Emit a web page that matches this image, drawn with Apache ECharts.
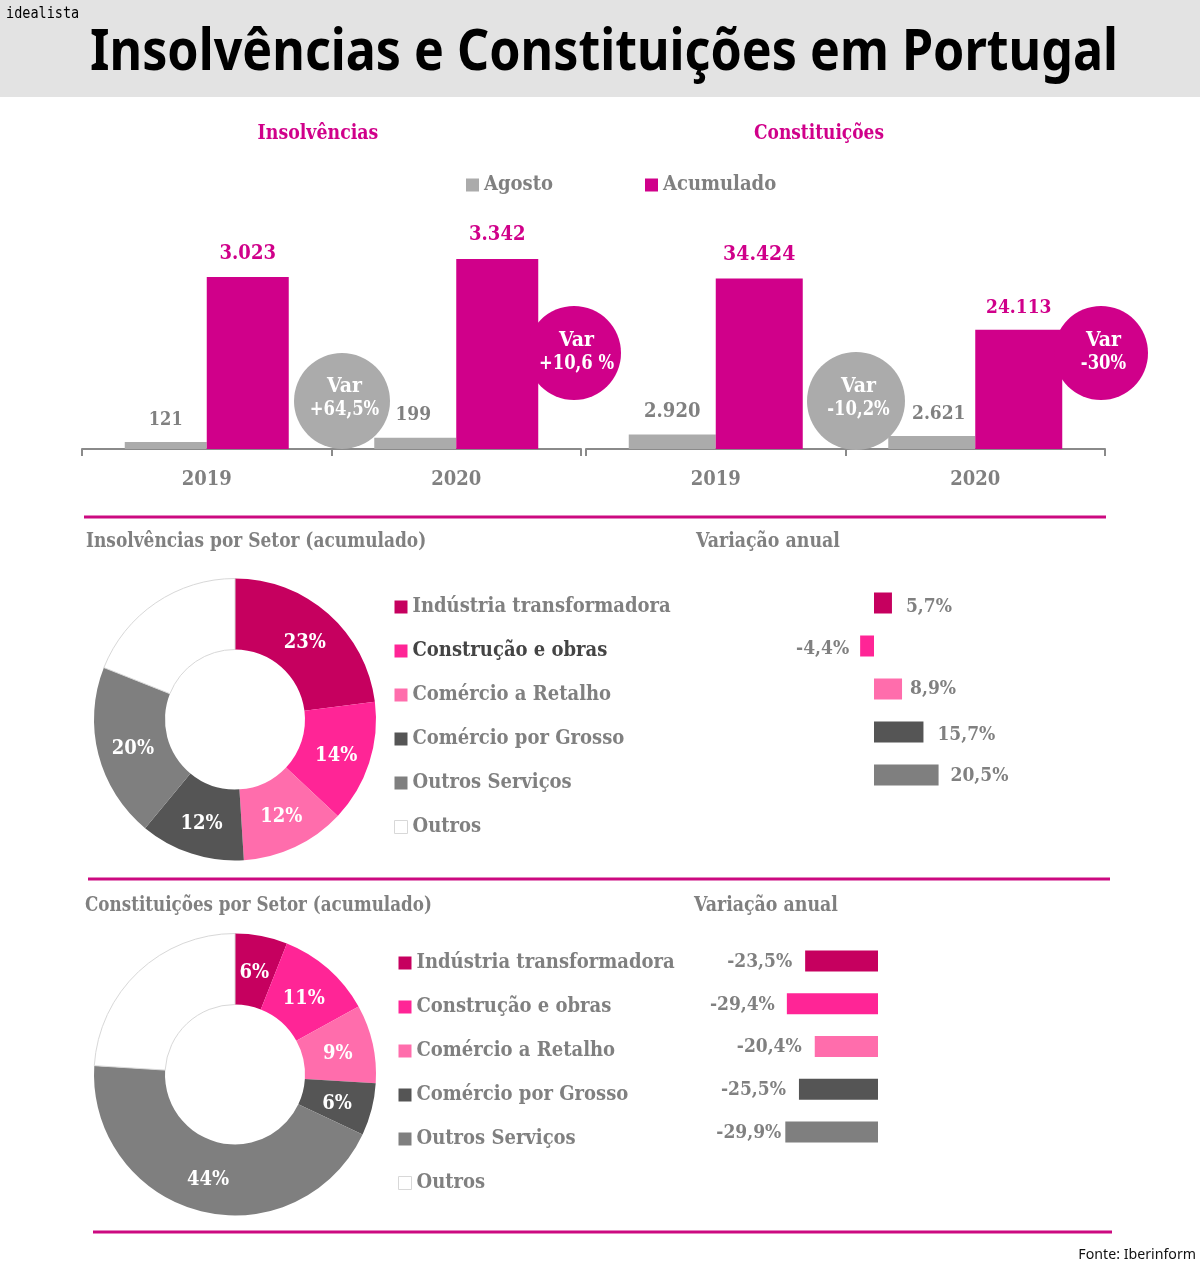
<!DOCTYPE html>
<html>
<head>
<meta charset="utf-8">
<title>Insolvências e Constituições em Portugal</title>
<script src="https://cdn.jsdelivr.net/npm/echarts@6/dist/echarts.min.js"></script>
<style>
  html, body { margin: 0; padding: 0; background: #fff; }
  #chart { width: 1200px; height: 1264px; }
</style>
</head>
<body>
<div id="chart"></div>
<script>
var years = ['2019', '2020'];
var insolvAgosto = [121, 199];
var insolvAcumulado = [3023, 3342];
var constAgosto = [2920, 2621];
var constAcumulado = [34424, 24113];

var setores = ['Indústria transformadora', 'Construção e obras', 'Comércio a Retalho', 'Comércio por Grosso', 'Outros Serviços', 'Outros'];
var insolvSetor = [23, 14, 12, 12, 20, 19];
var constSetor = [6, 11, 9, 6, 44, 24];
var insolvVar = [5.7, -4.4, 8.9, 15.7, 20.5];
var constVar = [-23.5, -29.4, -20.4, -25.5, -29.9];

var corSetor = ['#c6005f', '#ff2596', '#ff6dac', '#555555', '#7f7f7f', '#ffffff'];
var MAGENTA = '#d0008a', CINZA = '#ababab', TEXTO = '#808080', LINHA = '#cc0a80';
var SERIF = '"DejaVu Serif Condensed", "DejaVu Serif", serif';
var SANS = '"Noto Sans", sans-serif';

function milhar(v) {
  return String(v).replace(/\B(?=(\d{3})+$)/g, '.');
}
function pct(v) {
  return String(v).replace('.', ',') + '%';
}

// helpers for the annotations around the charts
function txt(x, y, s, size, color, align, scaleX, family, weight) {
  return {
    type: 'text', x: x, y: y, z: 11, silent: true, scaleX: scaleX || 1, originX: 0, originY: 0,
    style: {
      text: s, fill: color, align: align || 'left', verticalAlign: 'middle',
      font: (weight || 'bold') + ' ' + size + 'px ' + (family || SERIF)
    }
  };
}
function regua(y, x1, x2) {
  return { type: 'rect', z: 1, silent: true, shape: { x: x1, y: y - 1.5, width: x2 - x1, height: 3 }, style: { fill: LINHA } };
}
function bola(x, y, r, cor, l1, l2, dy) {
  return [
    { type: 'circle', z: 10, silent: true, shape: { cx: x, cy: y, r: r }, style: { fill: cor } },
    txt(x + 2.5, y - 14 + dy, l1, 21, '#fff', 'center', 1),
    txt(x + 2.5, y + 9 + dy, l2, 21, '#fff', 'center', 0.87)
  ];
}

var graphics = [
  { type: 'rect', z: 0, silent: true, shape: { x: 0, y: 0, width: 1200, height: 97 }, style: { fill: '#e3e3e3' } },
  txt(604, 53, 'Insolvências e Constituições em Portugal', 58, '#000', 'center', 0.865, SANS),
  txt(6, 14, 'idealista', 15, '#000', 'left', 0.9, '"DejaVu Sans Mono", monospace', 'normal'),
  txt(1196, 1255, 'Fonte: Iberinform', 15, '#111', 'right', 0.945, SANS, 'normal'),
  txt(318, 134, 'Insolvências', 21, MAGENTA, 'center', 0.92),
  txt(819, 134, 'Constituições', 21, MAGENTA, 'center', 0.9),
  txt(86, 542, 'Insolvências por Setor (acumulado)', 21, TEXTO, 'left', 0.9),
  txt(696, 542, 'Variação anual', 21, TEXTO, 'left', 0.92),
  txt(85, 906, 'Constituições por Setor (acumulado)', 21, TEXTO, 'left', 0.887),
  txt(694, 906, 'Variação anual', 21, TEXTO, 'left', 0.92),
  regua(517, 84, 1106),
  regua(879, 88, 1110),
  regua(1232, 93, 1112)
].concat(
  bola(342, 401, 48, CINZA, 'Var', '+64,5%', 0),
  bola(574, 353, 47, MAGENTA, 'Var', '+10,6 %', 1.5),
  bola(856, 401, 49, CINZA, 'Var', '-10,2%', 0),
  bola(1101, 353, 47, MAGENTA, 'Var', '-30%', 1.5)
);

function eixoAnos(grid) {
  return {
    type: 'category', gridIndex: grid, data: years,
    axisLine: { show: true, lineStyle: { color: '#8a8a8a', width: 2 } },
    axisTick: { show: true, length: 7, lineStyle: { color: '#8a8a8a', width: 2 } },
    axisLabel: { color: TEXTO, fontFamily: SERIF, fontWeight: 'bold', fontSize: 20, margin: 21 }
  };
}
function eixoValor(grid, max) {
  return { type: 'value', gridIndex: grid, min: 0, max: max, show: false, splitLine: { show: false } };
}
// sizes and shifts per bar, the labels in the picture are not all the same size
function barrasAno(name, grid, data, cor, width, sizes, shifts) {
  return {
    type: 'bar', name: name, xAxisIndex: grid, yAxisIndex: grid, barWidth: width, barGap: '0%', silent: true,
    itemStyle: { color: cor },
    data: data.map(function (v, i) {
      return {
        value: v,
        label: {
          show: true, position: 'top', distance: 11, color: name == 'Agosto' ? TEXTO : MAGENTA,
          fontFamily: SERIF, fontWeight: 'bold', fontSize: sizes[i], offset: shifts[i],
          formatter: function (p) { return milhar(p.value); }
        }
      };
    })
  };
}
function donut(center, values, shifts) {
  return {
    type: 'pie', center: center, radius: [70, 141], silent: true, animation: false,
    labelLine: { show: false },
    data: setores.map(function (s, i) {
      var outros = s == 'Outros';
      return {
        name: s, value: values[i],
        itemStyle: outros ? { color: '#fff', borderColor: '#d8d8d8', borderWidth: 1 } : { color: corSetor[i] },
        label: {
          show: !outros, position: 'inside', color: '#fff', fontFamily: SERIF, fontWeight: 'bold', fontSize: 20,
          offset: shifts[i],
          formatter: function (p) { return p.value + '%'; }
        }
      };
    })
  };
}
function barrasVar(grid, values, dist, dy) {
  return {
    type: 'bar', xAxisIndex: grid, yAxisIndex: grid, barWidth: 21, silent: true,
    data: values.map(function (v, i) {
      return {
        value: v,
        itemStyle: { color: corSetor[i] },
        label: {
          show: true, position: 'outside', distance: dist[i], color: TEXTO, offset: [0, dy[i]],
          fontFamily: SERIF, fontWeight: 'bold', fontSize: 19,
          formatter: function (p) { return pct(p.value); }
        }
      };
    })
  };
}
function eixoSetor(grid) {
  return { type: 'category', gridIndex: grid, data: setores.slice(0, 5), inverse: true, show: false };
}
function legendaSetor(left, top) {
  return {
    left: left, top: top, orient: 'vertical', selectedMode: false,
    icon: 'rect', itemWidth: 13, itemHeight: 13, itemGap: 18, padding: 0,
    textStyle: { color: TEXTO, fontFamily: SERIF, fontWeight: 'bold', fontSize: 20, lineHeight: 26 },
    data: setores.map(function (s) {
      var item = { name: s };
      if (s == 'Construção e obras' && left < 396) item.textStyle = { color: '#444' };
      if (s == 'Outros') item.itemStyle = { borderColor: '#d8d8d8', borderWidth: 1 };
      return item;
    })
  };
}

var chart = echarts.init(document.getElementById('chart'));
chart.setOption({
  animation: false,
  backgroundColor: '#fff',
  graphic: graphics,
  legend: [
    {
      left: 466, top: 172, selectedMode: false, icon: 'rect', itemWidth: 13, itemHeight: 13, itemGap: 92, padding: 0,
      textStyle: { color: TEXTO, fontFamily: SERIF, fontWeight: 'bold', fontSize: 20, lineHeight: 26 },
      data: ['Agosto', 'Acumulado']
    },
    legendaSetor(394, 594),
    legendaSetor(398, 950)
  ],
  grid: [
    { left: 82, top: 250, width: 499, height: 199 },
    { left: 586, top: 251, width: 519, height: 198 },
    { left: 842.5, top: 581.5, width: 126, height: 215 },
    { left: 785, top: 939.5, width: 93, height: 214 }
  ],
  xAxis: [
    eixoAnos(0), eixoAnos(1),
    { type: 'value', gridIndex: 2, min: -10, max: 30, show: false, splitLine: { show: false } },
    { type: 'value', gridIndex: 3, min: -30, max: 0, show: false, splitLine: { show: false } }
  ],
  yAxis: [eixoValor(0, 3500), eixoValor(1, 40000), eixoSetor(2), eixoSetor(3)],
  series: [
    barrasAno('Agosto', 0, insolvAgosto, CINZA, 82, [18, 19], [[0, -2], [-2, -2]]),
    barrasAno('Acumulado', 0, insolvAcumulado, MAGENTA, 82, [20, 20], [[0, -2], [0, -3]]),
    barrasAno('Agosto', 1, constAgosto, CINZA, 87, [20, 19], [[0, -2], [7, -1]]),
    barrasAno('Acumulado', 1, constAcumulado, MAGENTA, 87, [21, 19], [[0, -3], [0, -1]]),
    barrasVar(2, insolvVar, [14, 11, 8, 14, 12], [4, 3, 0, 3, 1]),
    barrasVar(3, constVar, [13, 12, 13, 13, 4], [1, 1, 1, 1, 1]),
    donut([235, 719.5], insolvSetor, [[-2, 5], [-2, 3], [0, -1], [0, 1], [3, 2], [0, 0]]),
    donut([235, 1074.5], constSetor, [[-1, 5], [-3, 6], [-3, 3], [-3, 2], [0, 0], [0, 0]])
  ]
});
</script>
</body>
</html>
